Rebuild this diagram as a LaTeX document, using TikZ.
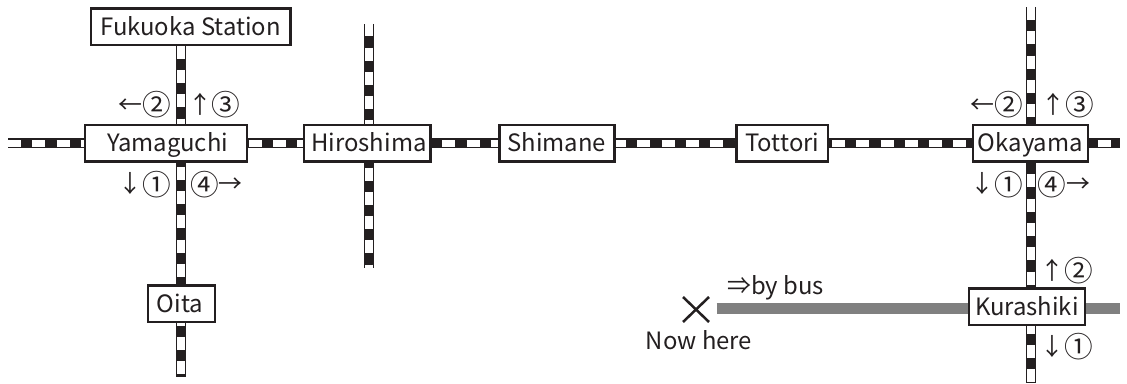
\documentclass[tikz,border=0pt]{standalone}
\usepackage{fontspec}
\setmainfont{Noto Sans CJK JP}
\usetikzlibrary{backgrounds}
\definecolor{ink}{HTML}{231F20}
\definecolor{bus}{HTML}{808080}
\newcommand{\circd}[1]{\raisebox{-1.8pt}{\fontsize{21.5}{24}\selectfont #1}}
\tikzset{
  station/.style={draw=ink,line width=1.8pt,fill=white,inner sep=0pt,outer sep=0pt,text=ink,font=\fontsize{17.9}{20}\selectfont,minimum height=27.4pt,text height=14.5pt,text depth=1.5pt,anchor=center},
  lbl/.style={inner sep=0pt,text=ink,font=\fontsize{17.9}{20}\selectfont,text height=14.5pt,text depth=1.5pt,anchor=center},
  track/.style={draw=ink,line width=7.5pt,postaction={draw=white,line width=5.6pt,dash pattern=on 9.75pt off 8.45pt,dash phase=#1pt}},
  busline/.style={draw=bus,line width=8pt},
  crossmark/.style={draw=ink,line width=1.9pt}
}
\begin{document}
\begin{tikzpicture}[x=0.75pt,y=-0.75pt]
\useasboundingbox (0,0) rectangle (1127,384);
\node[station,minimum width=149.8pt] (fuk) at (190.6,26.6) {Fukuoka Station};
\node[station,minimum width=121.2pt] (yam) at (166,143.3) {\kern2.5pt Yamaguchi};
\node[station,minimum width=95.2pt] (hir) at (367.2,143.3) {\kern2.6pt Hiroshima};
\node[station,minimum width=86.2pt] (shi) at (556.9,143.3) {Shimane};
\node[station,minimum width=68.6pt] (tot) at (782.3,143.3) {Tottori};
\node[station,minimum width=86.2pt] (oka) at (1030.4,143.3) {Okayama};
\node[station,minimum width=50.2pt] (oit) at (181.3,303.6) {Oita\kern2pt};
\node[station,minimum width=86.9pt] (kur) at (1026.8,306.6) {Kurashiki};
\node[lbl] (l1) at (145,104.7) {←\circd{②}};
\node[lbl] (l2) at (214.3,104.7) {↑\circd{③}};
\node[lbl] (l3) at (144.6,184) {↓\circd{①}};
\node[lbl] (l4) at (216.3,184) {\circd{④}→};
\node[lbl] (l5) at (996.8,104.7) {←\circd{②}};
\node[lbl] (l6) at (1067.6,104.7) {↑\circd{③}};
\node[lbl] (l7) at (996.6,184) {↓\circd{①}};
\node[lbl] (l8) at (1064,184) {\circd{④}→};
\node[lbl] (l9) at (1066.6,270.8) {↑\circd{②}};
\node[lbl] (l10) at (1066.6,346.5) {↓\circd{①}};
\node[lbl] (l11) at (775.5,285.5) {⇒by bus};
\node[lbl] (l12) at (699,340.5) {Now here};
\coordinate (w) at (8,143.3);
\coordinate (e) at (1120,143.3);
\coordinate (s) at (181,376.7);
\coordinate (ht) at (369,24);
\coordinate (hb) at (369,268.3);
\coordinate (ot) at (1031,7);
\coordinate (ob) at (1031,383);
\coordinate (bw) at (716.7,308.7);
\coordinate (be) at (1120,308.7);
\coordinate (xa) at (683,297);
\coordinate (xb) at (709,322);
\coordinate (xc) at (709,297);
\coordinate (xd) at (683,322);
\begin{scope}[on background layer]
\draw[track=0] (w) -- (yam.west);
\draw[track=16.7] (yam.east) -- (hir.west);
\draw[track=9.4] (hir.east) -- (shi.west);
\draw[track=0.9] (shi.east) -- (tot.west);
\draw[track=15.2] (tot.east) -- (oka.west);
\draw[track=10.7] (oka.east) -- (e);
\draw[track=17.5] (fuk.south -| s) -- (yam.north -| s);
\draw[track=14.25] (yam.south -| s) -- (oit.north -| s);
\draw[track=7] (oit.south -| s) -- (s);
\draw[track=0.45] (ht) -- (hir.north -| ht);
\draw[track=13.7] (hir.south -| hb) -- (hb);
\draw[track=0] (ot) -- (oka.north -| ot);
\draw[track=8.5] (oka.south -| ob) -- (kur.north -| ob);
\draw[track=3] (kur.south -| ob) -- (ob);
\draw[busline] (bw) -- (kur.west |- bw);
\draw[busline] (kur.east |- be) -- (be);
\end{scope}
\draw[crossmark] (xa) -- (xb);
\draw[crossmark] (xc) -- (xd);
\end{tikzpicture}
\end{document}
